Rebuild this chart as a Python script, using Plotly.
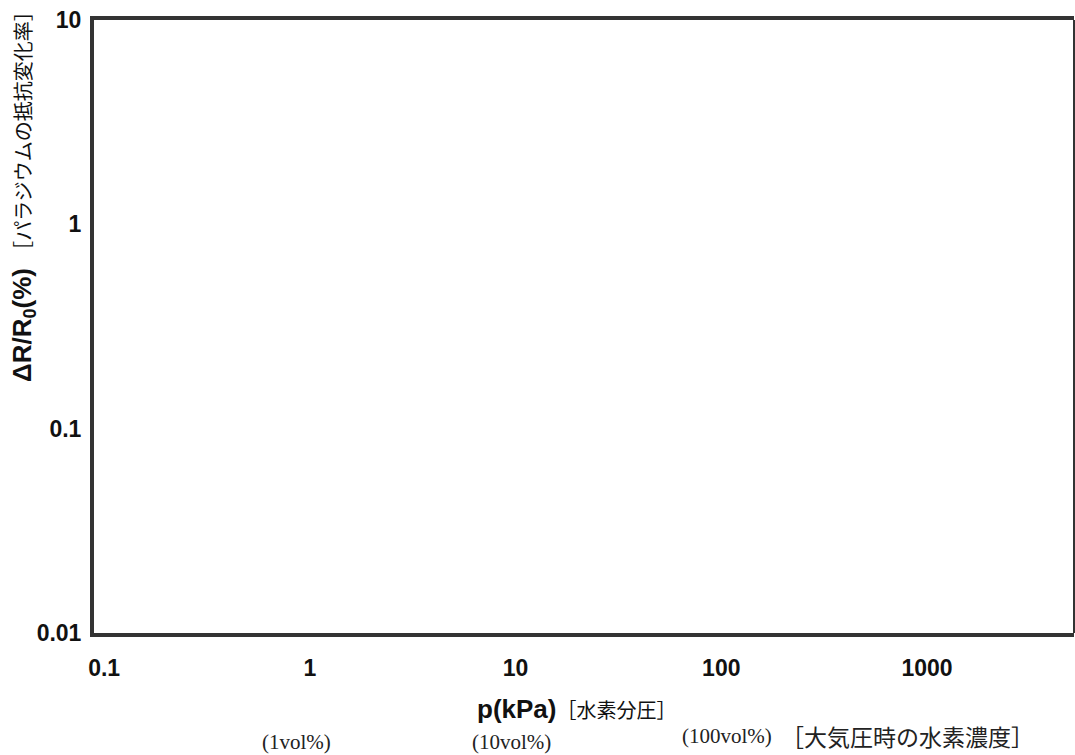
import plotly.graph_objects as go
import math

# ---- data (axis definitions / labels) ----
x_tick_vals = [0.1, 1, 10, 100, 1000]
x_tick_text = ["0.1", "1", "10", "100", "1000"]
y_tick_vals = [0.01, 0.1, 1, 10]
y_tick_text = ["0.01", "0.1", "1", "10"]
x_range_kpa = [0.0893, 5180]
y_range = [0.01, 10]

vol_labels = ["(1vol%)", "(10vol%)", "(100vol%)"]
vol_kpa = [1, 10, 100]
vol_note = "［大気圧時の水素濃度］"

x_title_main = "p(kPa)"
x_title_note = "［水素分圧］"
y_title_main = "ΔR/R<sub>0</sub>(%)"
y_title_note = "［パラジウムの抵抗変化率］"

# ---- layout constants ----
W, H = 1075, 755
ML, MR, MT, MB = 94, 1, 20, 122
PW, PH = W - ML - MR, H - MT - MB
LINE = "#333333"
SANS = "Liberation Sans, Arial, sans-serif"
CJK = "Noto Sans CJK JP, sans-serif"
SERIF = "Liberation Serif, Noto Sans CJK JP, serif"


def px_x(p):
    return (p - ML) / PW


def px_y(p):
    return (H - MB - p) / PH


fig = go.Figure()
fig.add_trace(go.Scatter(x=[0.1], y=[0.1], mode="markers", marker=dict(opacity=0),
                         showlegend=False, hoverinfo="skip"))

fig.update_layout(
    width=W, height=H, autosize=False,
    margin=dict(l=ML, r=MR, t=MT, b=MB, pad=0),
    paper_bgcolor="white", plot_bgcolor="white",
    showlegend=False,
    xaxis=dict(
        type="log",
        range=[math.log10(x_range_kpa[0]), math.log10(x_range_kpa[1])],
        tickmode="array", tickvals=x_tick_vals, ticktext=x_tick_text,
        showgrid=False, zeroline=False, ticks="",
        showline=True, linewidth=4, linecolor=LINE, mirror=True,
        tickfont=dict(family=SANS, size=23, color="#111111", weight="bold"),
        ticklabelstandoff=11,
    ),
    yaxis=dict(
        type="log",
        range=[math.log10(y_range[0]), math.log10(y_range[1])],
        tickmode="array", tickvals=y_tick_vals, ticktext=y_tick_text,
        showgrid=False, zeroline=False, ticks="",
        showline=True, linewidth=4, linecolor=LINE, mirror=False,
        tickfont=dict(family=SANS, size=23, color="#111111", weight="bold"),
        ticklabelstandoff=4,
    ),
)

# thin right border
fig.add_shape(type="line", xref="paper", yref="paper", x0=1, x1=1, y0=0, y1=1,
              line=dict(color=LINE, width=2))

# y-axis title (rotated)
fig.add_annotation(
    xref="paper", yref="paper", x=px_x(24), y=px_y(192),
    xanchor="center", yanchor="middle", textangle=-90, showarrow=False,
    text=(f"<b>{y_title_main}</b> "
          f"<span style='font-family:{CJK};font-size:20px;font-weight:normal'>{y_title_note}</span>"),
    font=dict(family=SANS, size=26, color="#111111"),
)

# x-axis title
fig.add_annotation(
    xref="paper", yref="paper", x=px_x(475), y=px_y(709),
    xanchor="left", yanchor="middle", showarrow=False,
    text=(f"<b>{x_title_main}</b>"
          f"<span style='font-family:{CJK};font-size:20px;font-weight:normal'>{x_title_note}</span>"),
    font=dict(family=SANS, size=26, color="#111111"),
)

# vol% labels placed along the x scale
vol_y = [742, 742, 736]
vol_shift = [-13, -4, 6]
for lab, k, yy, sh in zip(vol_labels, vol_kpa, vol_y, vol_shift):
    fig.add_annotation(
        xref="x", yref="paper", x=math.log10(k), y=px_y(yy), xshift=sh,
        xanchor="center", yanchor="middle", showarrow=False,
        text=lab, font=dict(family=SERIF, size=21, color="#222222"),
    )

fig.add_annotation(
    xref="paper", yref="paper", x=px_x(907), y=px_y(736),
    xanchor="center", yanchor="middle", showarrow=False,
    text=vol_note, font=dict(family=CJK, size=23, color="#222222"),
)

fig.write_html(
    "out.html",
    config={"displayModeBar": False},
    post_script="document.body.style.margin='0px';document.body.style.overflow='hidden';",
)
